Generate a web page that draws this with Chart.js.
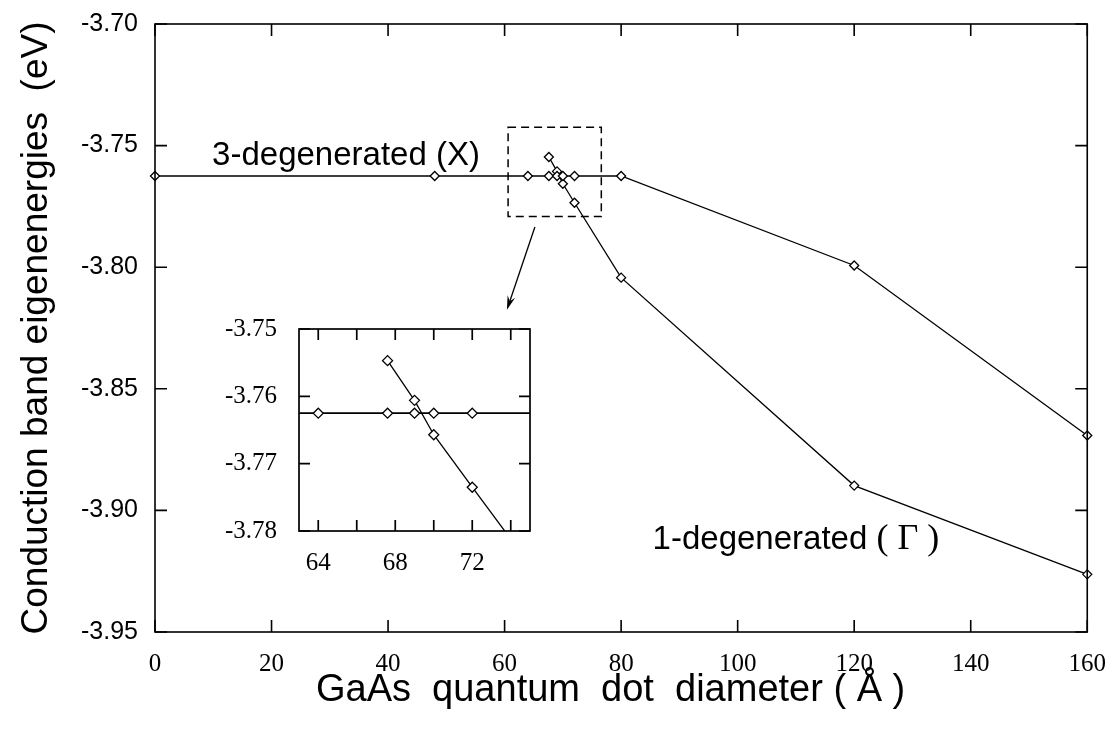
<!DOCTYPE html>
<html>
<head>
<meta charset="utf-8">
<script src="https://cdn.jsdelivr.net/npm/chart.js@4"></script>
<style>
  body { margin: 0; background: #fff; }
  #wrap { position: relative; width: 1115px; height: 731px; }
  #mainChart { position: absolute; left: 0; top: 0; }
  #insetChart { position: absolute; left: 220px; top: 300px; }
</style>
</head>
<body>
<div id="wrap">
  <canvas id="mainChart" width="1115" height="731"></canvas>
  <canvas id="insetChart" width="320" height="290"></canvas>
</div>
<script>
// Values
const diamX = [0, 48, 64, 67.6, 69, 70, 72, 80, 120, 160];
const energyX = [-3.7625, -3.7625, -3.7625, -3.7625, -3.7625, -3.7625, -3.7625, -3.7625, -3.7993, -3.8692];
const diamG = [67.6, 69, 70, 72, 80, 120, 160];
const energyG = [-3.7547, -3.7606, -3.7657, -3.7735, -3.8043, -3.8898, -3.9263];

const xTicksMain = [0, 20, 40, 60, 80, 100, 120, 140, 160];
const yTicksMain = [-3.95, -3.90, -3.85, -3.80, -3.75, -3.70];
const xTicksInset = [64, 66, 68, 70, 72, 74];
const xLabelsInset = [64, 68, 72];
const yTicksInset = [-3.78, -3.77, -3.76, -3.75];

const SANS = '"Liberation Sans", Arial, Helvetica, sans-serif';
const SERIF = '"Liberation Serif", "Times New Roman", serif';

const toPoints = (xs, ys) => xs.map((v, i) => ({ x: v, y: ys[i] }));

function series(xs, ys, radius, width, clip) {
    return {
        data: toPoints(xs, ys),
        borderColor: '#000',
        borderWidth: width,
        pointStyle: 'rectRot',
        pointRadius: radius,
        pointBackgroundColor: '#fff',
        pointBorderColor: '#000',
        pointBorderWidth: 1.3,
        tension: 0,
        clip: clip,
    };
}

// box around the plot area with ticks pointing inward on all four sides
const framePlugin = {
    id: 'frame',
    afterDatasetsDraw(chart, args, opts) {
        const { ctx, chartArea: a, scales: { x, y } } = chart;
        ctx.save();
        ctx.strokeStyle = '#000';
        ctx.lineWidth = opts.lineWidth;
        ctx.strokeRect(a.left, a.top, a.right - a.left, a.bottom - a.top);
        ctx.beginPath();
        x.ticks.forEach(t => {
            const px = x.getPixelForValue(t.value);
            ctx.moveTo(px, a.bottom); ctx.lineTo(px, a.bottom - opts.tickLen);
            ctx.moveTo(px, a.top); ctx.lineTo(px, a.top + opts.tickLen);
        });
        y.ticks.forEach(t => {
            const py = y.getPixelForValue(t.value);
            ctx.moveTo(a.left, py); ctx.lineTo(a.left + opts.tickLen, py);
            ctx.moveTo(a.right, py); ctx.lineTo(a.right - opts.tickLen, py);
        });
        ctx.stroke();
        ctx.restore();
    }
};

// curve labels, zoom box and arrow on the main plot
const notesPlugin = {
    id: 'notes',
    afterDraw(chart) {
        const { ctx, scales: { x, y } } = chart;
        ctx.save();
        ctx.fillStyle = '#000';
        ctx.strokeStyle = '#000';
        ctx.textBaseline = 'alphabetic';
        ctx.textAlign = 'left';

        ctx.font = '33px ' + SANS;
        ctx.fillText('3-degenerated (X)', x.getPixelForValue(9.8), y.getPixelForValue(-3.7581));

        let px = x.getPixelForValue(85.4);
        const py = y.getPixelForValue(-3.9157);
        const part1 = '1-degenerated ';
        ctx.fillText(part1, px, py);
        px += ctx.measureText(part1).width;
        ctx.font = '36px ' + SERIF;
        ctx.fillText('( \u0393 )', px, py);

        // dashed zoom box
        ctx.lineWidth = 1.5;
        ctx.setLineDash([8, 5]);
        const bx0 = x.getPixelForValue(60.6), bx1 = x.getPixelForValue(76.6);
        const by0 = y.getPixelForValue(-3.7425), by1 = y.getPixelForValue(-3.7792);
        ctx.strokeRect(bx0, by0, bx1 - bx0, by1 - by0);
        ctx.setLineDash([]);

        // arrow to the inset
        const ax0 = x.getPixelForValue(65.2), ay0 = y.getPixelForValue(-3.7835);
        const ax1 = x.getPixelForValue(60.4), ay1 = y.getPixelForValue(-3.8175);
        const ang = Math.atan2(ay1 - ay0, ax1 - ax0);
        ctx.lineWidth = 1.3;
        ctx.beginPath();
        ctx.moveTo(ax0, ay0);
        ctx.lineTo(ax1 - 8 * Math.cos(ang), ay1 - 8 * Math.sin(ang));
        ctx.stroke();
        ctx.beginPath();
        ctx.moveTo(ax1, ay1);
        ctx.lineTo(ax1 - 14 * Math.cos(ang) + 4 * Math.sin(ang), ay1 - 14 * Math.sin(ang) - 4 * Math.cos(ang));
        ctx.lineTo(ax1 - 9 * Math.cos(ang), ay1 - 9 * Math.sin(ang));
        ctx.lineTo(ax1 - 14 * Math.cos(ang) - 4 * Math.sin(ang), ay1 - 14 * Math.sin(ang) + 4 * Math.cos(ang));
        ctx.closePath();
        ctx.fill();
        ctx.restore();
    }
};

// Main chart
new Chart(document.getElementById('mainChart').getContext('2d'), {
    type: 'line',
    data: {
        datasets: [
            series(diamX, energyX, 4.5, 1.3, false),
            series(diamG, energyG, 4.5, 1.3, false),
        ],
    },
    options: {
        responsive: false,
        animation: false,
        layout: { padding: { left: 0, top: 12, right: 27, bottom: 0 } },
        plugins: {
            legend: { display: false },
            tooltip: { enabled: false },
            frame: { tickLen: 12, lineWidth: 1.6 },
        },
        scales: {
            x: {
                type: 'linear',
                min: 0,
                max: 160,
                afterBuildTicks: s => { s.ticks = xTicksMain.map(v => ({ value: v })); },
                afterFit: s => { s.height = 99; },
                grid: { display: false },
                border: { display: false },
                ticks: { padding: 9, color: '#000', maxRotation: 0, font: { family: SERIF, size: 25 } },
                title: {
                    display: true,
                    text: 'GaAs  quantum  dot  diameter ( \u00C5 )  ',
                    color: '#000',
                    font: { family: SANS, size: 38 },
                    padding: { top: 0, bottom: 18 },
                },
            },
            y: {
                type: 'linear',
                min: -3.95,
                max: -3.70,
                afterBuildTicks: s => { s.ticks = yTicksMain.map(v => ({ value: v })); },
                afterFit: s => { s.width = 155; },
                grid: { display: false },
                border: { display: false },
                ticks: {
                    padding: 9,
                    color: '#000',
                    font: { family: SANS, size: 25 },
                    callback: v => v.toFixed(2),
                },
                title: {
                    display: true,
                    text: 'Conduction band eigenenergies  (eV)',
                    color: '#000',
                    font: { family: SANS, size: 37 },
                    padding: { top: 15, bottom: 0 },
                },
            },
        },
    },
    plugins: [framePlugin, notesPlugin],
});

// Inset: zoom on the crossing region
new Chart(document.getElementById('insetChart').getContext('2d'), {
    type: 'line',
    data: {
        datasets: [
            series(diamX, energyX, 5, 1.7, true),
            series(diamG, energyG, 5, 1.3, true),
        ],
    },
    options: {
        responsive: false,
        animation: false,
        layout: { padding: { left: 0, top: 14, right: 10, bottom: 0 } },
        plugins: {
            legend: { display: false },
            tooltip: { enabled: false },
            frame: { tickLen: 11, lineWidth: 1.7 },
        },
        scales: {
            x: {
                type: 'linear',
                min: 63,
                max: 75,
                afterBuildTicks: s => { s.ticks = xTicksInset.map(v => ({ value: v })); },
                afterFit: s => { s.height = 59; },
                grid: { display: false },
                border: { display: false },
                ticks: {
                    padding: 9,
                    color: '#000',
                    maxRotation: 0,
                    autoSkip: false,
                    font: { family: SERIF, size: 25 },
                    callback: v => xLabelsInset.includes(v) ? String(v) : '',
                },
            },
            y: {
                type: 'linear',
                min: -3.78,
                max: -3.75,
                afterBuildTicks: s => { s.ticks = yTicksInset.map(v => ({ value: v })); },
                afterFit: s => { s.width = 79; },
                grid: { display: false },
                border: { display: false },
                ticks: {
                    padding: 14,
                    color: '#000',
                    font: { family: SERIF, size: 25 },
                    callback: v => v.toFixed(2),
                },
            },
        },
    },
    plugins: [framePlugin],
});
</script>
</body>
</html>
